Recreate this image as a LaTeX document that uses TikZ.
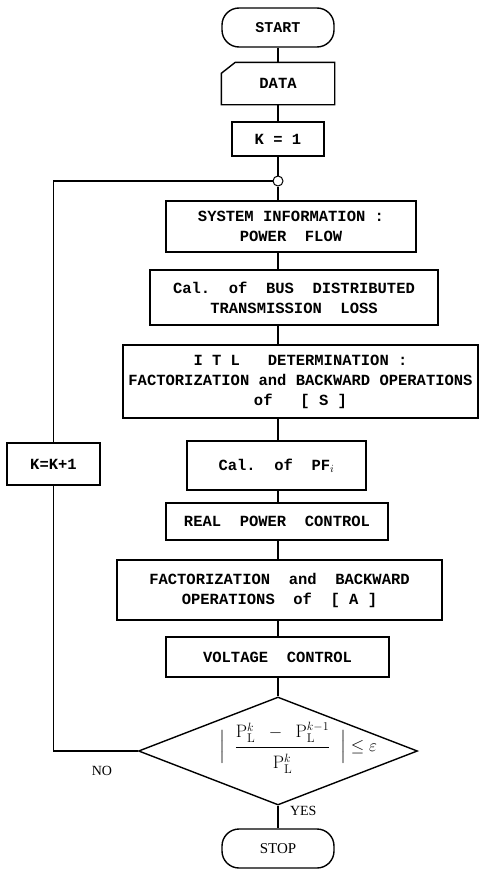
\documentclass[tikz,border=0pt]{standalone}
\usepackage{amsmath}
\usepackage{amssymb}
\usepackage{fontspec}
\usepackage{tikz}
\usetikzlibrary{shapes.geometric, arrows, positioning, calc}
\newfontfamily\boxfont{Liberation Mono}
\newfontfamily\termfont{Liberation Serif}

\begin{document}
\begin{tikzpicture}[x=1pt, y=-1pt, line width=1.4pt,
  procbox/.style={draw, rectangle, inner sep=2pt, align=center,
    font=\boxfont\bfseries\fontsize{15.5}{20}\selectfont},
  termbox/.style={draw, rectangle, rounded corners=17pt, minimum width=112pt, minimum height=39pt},
  answer/.style={font=\termfont\fontsize{14}{16}\selectfont}]
\useasboundingbox (0,0) rectangle (481,870);

% Start and input
\node[termbox, font=\boxfont\bfseries\fontsize{15}{18}\selectfont] (start) at (278,27.5) {START};
\node[procbox, draw=none, minimum width=112pt, minimum height=41pt] (data) at (278,83.5) {DATA};
\draw ([yshift=-11pt]data.north west) -- ([xshift=14pt]data.north west) -- (data.north east)
  -- (data.south east) -- (data.south west) -- cycle;
\node[procbox, minimum width=92pt, minimum height=34pt] (kone) at (278,139) {K = 1};
\node[draw, circle, fill=white, inner sep=0pt, minimum size=10pt, line width=1pt] (junc) at (278,181) {};

% Main loop
\node[procbox, minimum width=250pt, minimum height=51pt] (sysinfo) at (291,226.5) {SYSTEM INFORMATION :\\POWER~~FLOW};
\node[procbox, minimum width=288pt, minimum height=55pt] (busloss) at (294,297.5) {Cal.~~of~~BUS~~DISTRIBUTED\\TRANSMISSION~~LOSS};
\node[procbox, minimum width=355pt, minimum height=73pt] (itl) at (300.5,381.5) {I T L~~~DETERMINATION :\\FACTORIZATION and BACKWARD OPERATIONS\\of~~~[ S ]};
\node[procbox, minimum width=179pt, minimum height=49pt] (pf) at (276.5,465.5) {Cal.~~of~~PF$_i$};
\node[procbox, minimum width=222pt, minimum height=37pt] (realpow) at (277,521.5) {REAL~~POWER~~CONTROL};
\node[procbox, minimum width=325pt, minimum height=60pt] (facta) at (279.5,590) {FACTORIZATION~~and~~BACKWARD\\OPERATIONS~~of~~[ A ]};
\node[procbox, minimum width=223pt, minimum height=40pt] (volt) at (277.5,657) {VOLTAGE~~CONTROL};

% Convergence check
\node[draw, diamond, minimum width=279pt, minimum height=108pt, inner sep=0pt] (conv) at (278,751) {};
\node[font=\fontsize{18}{21}\selectfont] (ratio) at (298,748)
  {$\Big|\;\;\dfrac{\mathrm{P}_{\mathrm{L}}^{k}\;\;-\;\;\mathrm{P}_{\mathrm{L}}^{k-1}\rule[-7pt]{0pt}{7pt}}{\rule{0pt}{19pt}\mathrm{P}_{\mathrm{L}}^{k}}\;\;\Big|\le\varepsilon$};
\node[answer, anchor=west] (yes) at (286,811) {YES};
\node[answer] (no) at (102,771) {NO};
\node[termbox, font=\termfont\fontsize{15}{18}\selectfont] (stop) at (278,848.5) {STOP};

% Counter
\node[procbox, minimum width=93pt, minimum height=42pt] (kinc) at (53.5,464) {K=K+1};

\draw (start) -- (data);
\draw (data) -- (kone);
\draw (kone) -- (junc);
\draw (junc) -- (junc |- sysinfo.north);
\foreach \a/\b in {sysinfo/busloss, busloss/itl, itl/pf, pf/realpow, realpow/facta, facta/volt}
  \draw (\a.south -| junc) -- (\b.north -| junc);
\draw (volt.south -| junc) -- (conv.north);
\draw (conv.south) -- (stop);
\draw (conv.west) -| (kinc.south);
\draw (kinc.north) |- (junc.west);
\end{tikzpicture}
\end{document}
